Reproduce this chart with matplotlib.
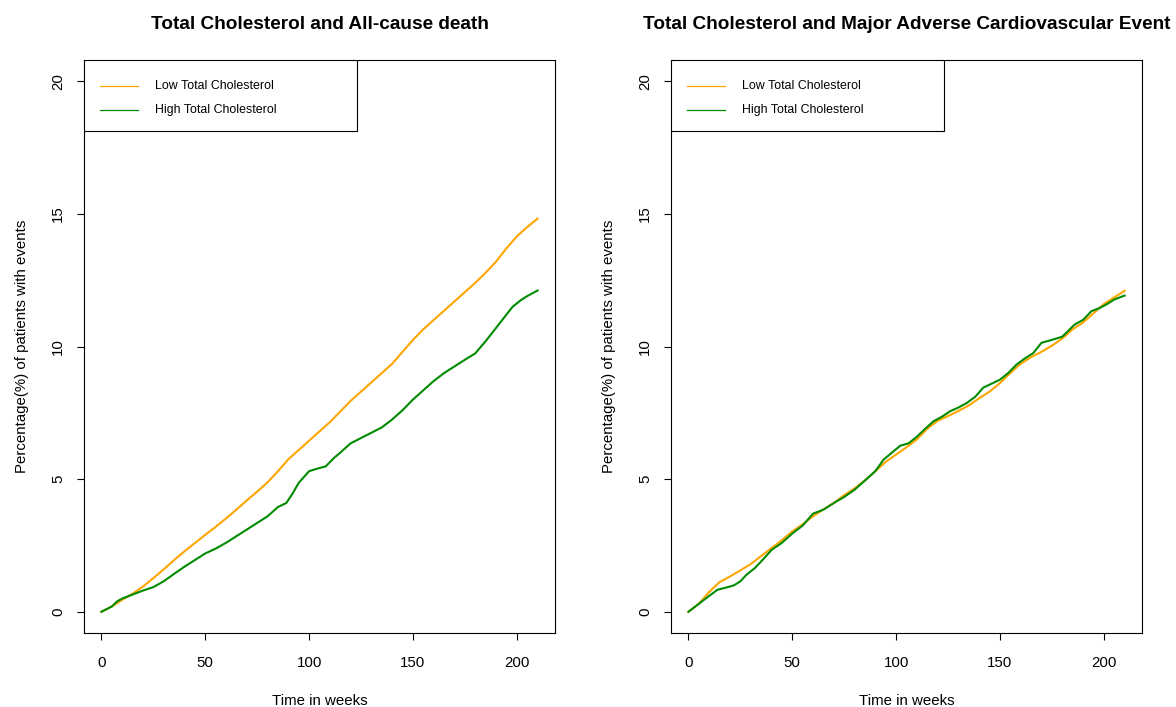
import matplotlib
matplotlib.use("Agg")
import matplotlib.pyplot as plt
from matplotlib.patches import Rectangle

plt.rcParams['font.family'] = ['Liberation Sans', 'DejaVu Sans']

# cumulative % of patients with events, read per week
# All-cause death
death_low_wk = [0, 5, 10, 15, 20, 25, 30, 35, 40, 45, 50, 55, 60, 65, 70, 75, 80, 85, 90, 95,
                100, 105, 110, 115, 120, 125, 130, 135, 140, 145, 150, 155, 160, 165, 170,
                175, 180, 185, 190, 195, 200, 205, 210]
death_low = [0, 0.2, 0.45, 0.68, 0.95, 1.27, 1.6, 1.95, 2.28, 2.59, 2.9, 3.2, 3.52, 3.85, 4.2,
             4.53, 4.88, 5.3, 5.75, 6.1, 6.45, 6.8, 7.15, 7.55, 7.95, 8.3, 8.65, 9.0, 9.35,
             9.8, 10.25, 10.65, 11.0, 11.35, 11.7, 12.05, 12.4, 12.78, 13.2, 13.7, 14.15,
             14.5, 14.82]
death_high_wk = [0, 5, 7.5, 10, 15, 20, 25, 30, 35, 40, 45, 50, 55, 60, 65, 70, 75, 80, 85, 89,
                 92, 95, 100, 105, 108, 112, 115, 120, 125, 130, 135, 140, 145, 150, 155, 160,
                 165, 170, 175, 180, 185, 188, 192, 195, 198, 202, 205, 210]
death_high = [0, 0.2, 0.39, 0.5, 0.65, 0.8, 0.93, 1.15, 1.43, 1.7, 1.95, 2.2, 2.38, 2.6, 2.85,
              3.1, 3.35, 3.6, 3.95, 4.1, 4.45, 4.86, 5.3, 5.42, 5.48, 5.8, 6.0, 6.35, 6.55,
              6.75, 6.95, 7.25, 7.6, 8.0, 8.35, 8.7, 9.0, 9.25, 9.5, 9.74, 10.2, 10.5, 10.9,
              11.2, 11.5, 11.75, 11.9, 12.11]

# MACE
mace_low_wk = death_low_wk
mace_low = [0, 0.3, 0.75, 1.12, 1.33, 1.56, 1.8, 2.1, 2.4, 2.7, 3.03, 3.3, 3.6, 3.86, 4.1, 4.4,
            4.65, 4.95, 5.3, 5.65, 5.93, 6.2, 6.5, 6.9, 7.2, 7.38, 7.57, 7.78, 8.05, 8.3, 8.62,
            9.0, 9.35, 9.6, 9.8, 10.03, 10.3, 10.65, 10.9, 11.25, 11.6, 11.85, 12.1]
mace_high_wk = [0, 5, 10, 14, 19, 22, 25, 28, 32, 36, 40, 45, 50, 55, 60, 65, 70, 75, 80, 85,
                90, 94, 98, 102, 106, 110, 114, 118, 122, 126, 130, 134, 138, 142, 146, 150,
                154, 158, 162, 166, 170, 175, 180, 183, 186, 190, 194, 198, 202, 205, 210]
mace_high = [0, 0.3, 0.6, 0.83, 0.93, 1.0, 1.15, 1.4, 1.65, 1.98, 2.33, 2.6, 2.95, 3.25, 3.7,
             3.85, 4.1, 4.33, 4.6, 4.95, 5.3, 5.74, 6.0, 6.26, 6.35, 6.6, 6.9, 7.18, 7.35,
             7.56, 7.7, 7.87, 8.1, 8.45, 8.6, 8.75, 9.0, 9.32, 9.55, 9.75, 10.14, 10.25,
             10.37, 10.6, 10.83, 11.0, 11.33, 11.45, 11.62, 11.77, 11.92]

labels = ['Low Total Cholesterol', 'High Total Cholesterol']
col_low = '#FFA500'
col_high = '#008B00'

panels = [
    ('Total Cholesterol and All-cause death', death_low_wk, death_low, death_high_wk, death_high),
    ('Total Cholesterol and Major Adverse Cardiovascular Event', mace_low_wk, mace_low,
     mace_high_wk, mace_high),
]

fig = plt.figure(figsize=(11.76, 7.07), dpi=100)
lefts = [84 / 1176, 671 / 1176]
w = 471 / 1176
b = 74 / 707
h = 573 / 707

for left, (title, xl, yl, xh, yh) in zip(lefts, panels):
    ax = fig.add_axes([left, b, w, h])
    ax.plot(xl, yl, color=col_low, lw=1.5)
    ax.plot(xh, yh, color=col_high, lw=1.5)
    ax.set_xlim(-8.4, 218.4)
    ax.set_ylim(-0.8, 20.8)
    ax.set_xticks([0, 50, 100, 150, 200])
    ax.set_yticks([0, 5, 10, 15, 20])
    ax.tick_params(length=5, width=0.8, labelsize=10.8)
    ax.tick_params(axis='x', pad=11.5)
    ax.tick_params(axis='y', labelrotation=90, pad=8.5)
    for lab in ax.get_yticklabels():
        lab.set_va('center')
    for s in ax.spines.values():
        s.set_linewidth(0.8)
        s.set_color('black')
    ax.set_title(title, fontsize=13.7, fontweight='bold', pad=22)
    ax.set_xlabel('Time in weeks', fontsize=10.8, va='center')
    ax.xaxis.set_label_coords(0.5, -68 / 573)
    ax.set_ylabel('Percentage(%) of patients with events', fontsize=10.8, va='center')
    ax.yaxis.set_label_coords(-62 / 471, 0.5)

    # R-style legend box in the top-left corner
    tr = ax.transAxes
    ax.add_patch(Rectangle((0, 0.876), 0.58, 0.124, transform=tr, fill=True,
                           facecolor='white', edgecolor='black', lw=0.8, zorder=5))
    for lab, col, yrow in zip(labels, [col_low, col_high], [0.9546, 0.9127]):
        ax.plot([0.034, 0.1146], [yrow, yrow], color=col, lw=0.9, transform=tr, zorder=6)
        ax.text(0.1507, yrow, lab, fontsize=8.9, va='center', ha='left', transform=tr,
                zorder=6)

fig.savefig('out.png', dpi=100)
